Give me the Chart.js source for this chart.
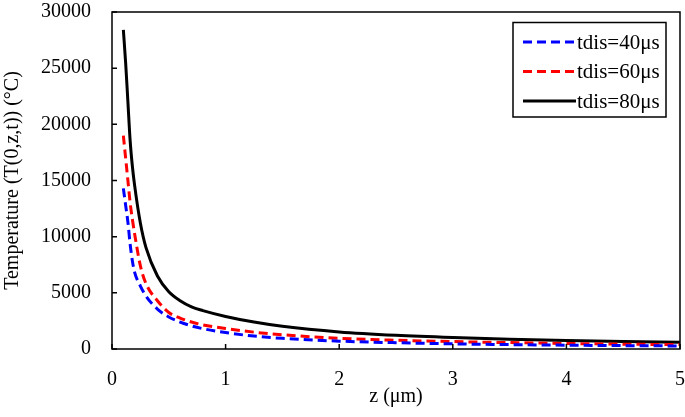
<!DOCTYPE html>
<html>
<head>
<meta charset="utf-8">
<script src="https://cdn.jsdelivr.net/npm/chart.js@4.4.0/dist/chart.umd.min.js"></script>
<style>
    html, body { margin: 0; padding: 0; background: #fff; }
    #wrap { width: 685px; height: 417px; }
</style>
</head>
<body>
<div id="wrap"><canvas id="tempChart"></canvas></div>
<script>
// 读图得到的数据
var zValues = [0.1, 0.12, 0.14, 0.16, 0.18, 0.2, 0.25, 0.3, 0.4, 0.5, 0.6, 0.7, 0.8, 1, 1.25, 1.5, 2, 2.5, 3, 3.5, 4, 4.5, 5];
var temp40 = [14300, 12800, 11300, 9300, 7800, 6800, 5600, 4700, 3550, 2850, 2400, 2060, 1810, 1460, 1150, 950, 700, 560, 460, 390, 340, 300, 270];
var temp60 = [19000, 17000, 15000, 13000, 11500, 10200, 7400, 5800, 4300, 3250, 2750, 2400, 2150, 1820, 1500, 1270, 950, 780, 660, 570, 490, 430, 390];
var temp80 = [28400, 25500, 22000, 18500, 16200, 14500, 11200, 9000, 6500, 5100, 4300, 3750, 3420, 2900, 2400, 2020, 1520, 1220, 1020, 870, 760, 670, 590];
var seriesLabels = ['tdis=40μs', 'tdis=60μs', 'tdis=80μs'];
var xTicks = [0, 1, 2, 3, 4, 5];
var yTicks = [0, 5000, 10000, 15000, 20000, 25000, 30000];

var FONT = 'Liberation Serif, "Times New Roman", serif';

function toPoints(xs, ys) {
    return xs.map(function(x, i) { return { x: x, y: ys[i] }; });
}

/**
 * 边框、向内刻度和图例
 */
var framePlugin = {
    id: 'frame',
    afterDraw: function(chart) {
        var ctx = chart.ctx;
        var area = chart.chartArea;
        var xs = chart.scales.x;
        var ys = chart.scales.y;
        ctx.save();
        ctx.strokeStyle = '#000';
        ctx.lineWidth = 1.5;
        ctx.strokeRect(area.left, area.top, area.right - area.left, area.bottom - area.top);

        // 向内刻度
        ctx.beginPath();
        xTicks.forEach(function(v) {
            var px = xs.getPixelForValue(v);
            ctx.moveTo(px, area.bottom);
            ctx.lineTo(px, area.bottom - 5);
        });
        yTicks.forEach(function(v) {
            var py = ys.getPixelForValue(v);
            ctx.moveTo(area.left, py);
            ctx.lineTo(area.left + 5, py);
        });
        ctx.stroke();

        // 图例
        var box = { left: 513, top: 22.5, right: 666, bottom: 117 };
        ctx.fillStyle = '#fff';
        ctx.fillRect(box.left, box.top, box.right - box.left, box.bottom - box.top);
        ctx.strokeRect(box.left, box.top, box.right - box.left, box.bottom - box.top);
        ctx.font = '21px ' + FONT;
        ctx.textBaseline = 'middle';
        chart.data.datasets.forEach(function(ds, i) {
            var y = 42 + i * 29.5;
            ctx.beginPath();
            ctx.strokeStyle = ds.borderColor;
            ctx.lineWidth = ds.borderWidth;
            ctx.setLineDash(ds.borderDash || []);
            ctx.moveTo(523, y);
            ctx.lineTo(576, y);
            ctx.stroke();
            ctx.setLineDash([]);
            ctx.fillStyle = '#000';
            ctx.fillText(ds.label, 577, y + 1);
        });
        ctx.restore();
    }
};

function initTempChart() {
    var ctx = document.getElementById('tempChart');
    new Chart(ctx, {
        type: 'line',
        data: {
            datasets: [{
                label: seriesLabels[0],
                data: toPoints(zValues, temp40),
                borderColor: '#0000ff',
                borderWidth: 3,
                borderDash: [9, 5],
                pointRadius: 0,
                cubicInterpolationMode: 'monotone'
            }, {
                label: seriesLabels[1],
                data: toPoints(zValues, temp60),
                borderColor: '#ff0000',
                borderWidth: 3,
                borderDash: [9, 5],
                pointRadius: 0,
                cubicInterpolationMode: 'monotone'
            }, {
                label: seriesLabels[2],
                data: toPoints(zValues, temp80),
                borderColor: '#000000',
                borderWidth: 3,
                pointRadius: 0,
                cubicInterpolationMode: 'monotone'
            }]
        },
        options: {
            responsive: true,
            maintainAspectRatio: false,
            animation: false,
            layout: {
                padding: { top: 12, right: 5, left: 0, bottom: 0 }
            },
            plugins: {
                legend: { display: false },
                tooltip: { enabled: false }
            },
            scales: {
                x: {
                    type: 'linear',
                    min: 0,
                    max: 5,
                    afterBuildTicks: function(scale) {
                        scale.ticks = xTicks.map(function(v) { return { value: v }; });
                    },
                    afterFit: function(scale) {
                        scale.height = 68;
                        scale.paddingLeft = 0;
                        scale.paddingRight = 0;
                    },
                    grid: { drawOnChartArea: false, drawTicks: false },
                    border: { display: false },
                    ticks: {
                        padding: 19,
                        color: '#000',
                        maxRotation: 0,
                        font: { family: FONT, size: 20 }
                    },
                    title: {
                        display: true,
                        text: 'z (μm)',
                        color: '#000',
                        padding: { top: 0, bottom: 8 },
                        font: { family: FONT, size: 20 }
                    }
                },
                y: {
                    min: 0,
                    max: 30000,
                    afterBuildTicks: function(scale) {
                        scale.ticks = yTicks.map(function(v) { return { value: v }; });
                    },
                    afterFit: function(scale) {
                        scale.width = 112;
                        scale.paddingTop = 0;
                        scale.paddingBottom = 0;
                    },
                    grid: { drawOnChartArea: false, drawTicks: false },
                    border: { display: false },
                    ticks: {
                        padding: 21,
                        color: '#000',
                        font: { family: FONT, size: 20 },
                        callback: function(value) { return String(value); }
                    },
                    title: {
                        display: true,
                        text: 'Temperature (T(0,z,t)) (°C)',
                        color: '#000',
                        padding: { top: 1, bottom: 0 },
                        font: { family: FONT, size: 20 }
                    }
                }
            }
        },
        plugins: [framePlugin]
    });
}

document.addEventListener('DOMContentLoaded', initTempChart);
</script>
</body>
</html>
